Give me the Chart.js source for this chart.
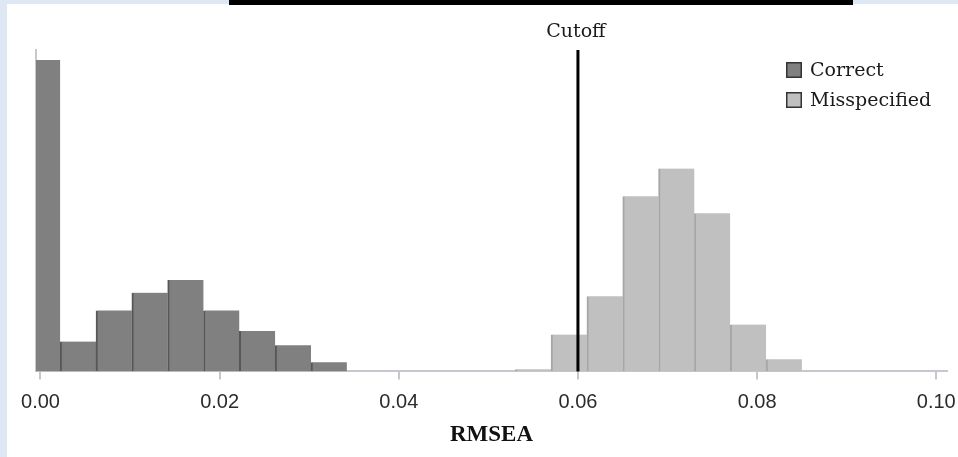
<!DOCTYPE html>
<html>
<head>
<meta charset="utf-8">
<title>RMSEA distribution</title>
<script src="https://cdn.jsdelivr.net/npm/chart.js@4.4.1/dist/chart.umd.min.js"></script>
<style>
  html, body { margin: 0; padding: 0; }
  body { width: 958px; height: 457px; overflow: hidden; background: #dde8f4; position: relative; }
  #panel { position: absolute; left: 7px; top: 4px; right: 0; bottom: 0; background: #fff; }
  #topbar { position: absolute; left: 229px; top: 0; width: 624px; height: 5px; background: #000; }
  #wrap { position: absolute; left: 0; top: 0; width: 958px; height: 457px; }
</style>
</head>
<body>
<div id="panel"></div>
<div id="topbar"></div>
<div id="wrap"><canvas id="rmsea-chart" width="958" height="457"></canvas></div>
<script>
// Histogram bins (centres) and counts out of 1000 replications
const correctBins = [0.0002, 0.0042, 0.0082, 0.0122, 0.0162, 0.0202, 0.0242, 0.0282, 0.0322];
const correctCounts = [439, 42, 86, 111, 129, 86, 57, 37, 13];
const misspecBins = [0.055, 0.059, 0.063, 0.067, 0.071, 0.075, 0.079, 0.083];
const misspecCounts = [3, 52, 106, 247, 286, 223, 66, 17];

const xTicks = [0, 0.02, 0.04, 0.06, 0.08, 0.1];
const cutoffValue = 0.06;
const cutoffLabel = "Cutoff";

const SERIF = '"DejaVu Serif", serif';

function toPoints(bins, counts) {
  return bins.map((b, i) => ({ x: b, y: counts[i] }));
}

/**
 * Vertical cutoff line with its label above the plot
 */
const cutoffPlugin = {
  id: "cutoff",
  afterDatasetsDraw(chart) {
    const { ctx, chartArea, scales } = chart;
    const x = scales.x.getPixelForValue(cutoffValue);
    ctx.save();
    ctx.strokeStyle = "#000";
    ctx.lineWidth = 3;
    ctx.beginPath();
    ctx.moveTo(x, chartArea.top);
    ctx.lineTo(x, chartArea.bottom);
    ctx.stroke();
    ctx.fillStyle = "#1a1a1a";
    ctx.font = "19px " + SERIF;
    ctx.textAlign = "center";
    ctx.textBaseline = "alphabetic";
    ctx.fillText(cutoffLabel, x - 2, chartArea.top - 13);
    ctx.restore();
  },
};

/**
 * Legend drawn inside the top-right corner of the plot
 */
const cornerLegend = {
  id: "cornerLegend",
  afterDraw(chart) {
    const { ctx, chartArea } = chart;
    const left = chartArea.right - 161;
    let baseline = chartArea.top + 26;
    ctx.save();
    ctx.font = "19px " + SERIF;
    ctx.textAlign = "left";
    ctx.textBaseline = "alphabetic";
    chart.data.datasets.forEach((ds) => {
      ctx.fillStyle = ds.backgroundColor;
      ctx.fillRect(left, baseline - 14, 16, 16);
      ctx.strokeStyle = "#333";
      ctx.lineWidth = 1.5;
      ctx.strokeRect(left + 0.75, baseline - 13.25, 14.5, 14.5);
      ctx.fillStyle = "#1a1a1a";
      ctx.fillText(ds.label, left + 24, baseline);
      baseline += 30;
    });
    ctx.restore();
  },
};

const ctx = document.getElementById("rmsea-chart");

new Chart(ctx, {
  type: "bar",
  data: {
    datasets: [
      {
        label: "Correct",
        data: toPoints(correctBins, correctCounts),
        backgroundColor: "#808080",
        borderColor: "#575757",
        borderWidth: { left: 2, top: 0, right: 0, bottom: 0 },
        borderSkipped: false,
        barPercentage: 1,
        categoryPercentage: 1,
        grouped: false,
        clip: 0,
      },
      {
        label: "Misspecified",
        data: toPoints(misspecBins, misspecCounts),
        backgroundColor: "#c0c0c0",
        borderColor: "#a6a6a6",
        borderWidth: { left: 2, top: 0, right: 0, bottom: 0 },
        borderSkipped: false,
        barPercentage: 1,
        categoryPercentage: 1,
        grouped: false,
        clip: 0,
      },
    ],
  },
  options: {
    responsive: false,
    animation: false,
    layout: {
      padding: { left: 36, right: 11, top: 50, bottom: 6 },
    },
    plugins: {
      legend: { display: false },
      tooltip: { enabled: false },
    },
    scales: {
      x: {
        type: "linear",
        min: -0.0005,
        max: 0.1012,
        offset: false,
        afterBuildTicks: (axis) => {
          axis.ticks = xTicks.map((v) => ({ value: v }));
        },
        afterFit: (axis) => {
          axis.paddingLeft = 0;
          axis.paddingRight = 0;
        },
        grid: {
          display: true,
          offset: false,
          drawOnChartArea: false,
          drawTicks: true,
          tickLength: 8,
          color: "#c5c9cd",
          lineWidth: 2,
        },
        border: { display: true, color: "#c5c9cd", width: 2 },
        ticks: {
          padding: 11,
          color: "#2b2b2b",
          font: { family: '"Liberation Sans", sans-serif', size: 20 },
          callback: (v) => Number(v).toFixed(2),
        },
        title: {
          display: true,
          text: "RMSEA",
          color: "#111",
          padding: { top: -4, bottom: 2 },
          font: { family: '"Liberation Serif", serif', size: 23, weight: "bold" },
        },
      },
      y: {
        min: 0,
        max: 453,
        grid: { display: false, drawTicks: false },
        border: { display: true, color: "#c5c9cd", width: 2 },
        ticks: { display: false },
      },
    },
  },
  plugins: [cutoffPlugin, cornerLegend],
});
</script>
</body>
</html>
